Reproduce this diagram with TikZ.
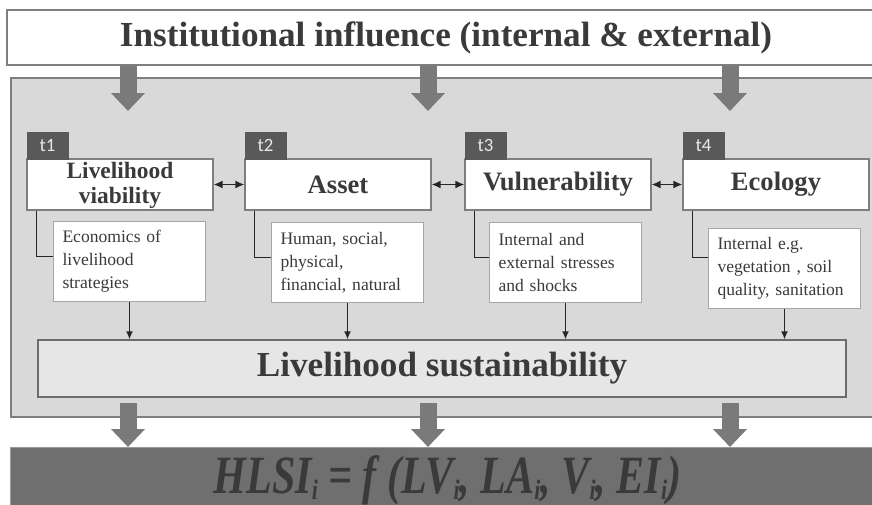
\documentclass[tikz,border=0pt]{standalone}
\usepackage{fontspec}
\setmainfont{Liberation Serif}
\newfontfamily\tabfont{Carlito}
\usetikzlibrary{arrows.meta}

\definecolor{panelgray}{HTML}{D9D9D9}
\definecolor{edgegray}{HTML}{7F7F7F}
\definecolor{lightedge}{HTML}{A6A6A6}
\definecolor{arrowgray}{HTML}{7A7A7A}
\definecolor{tabgray}{HTML}{595959}
\definecolor{tabtext}{HTML}{E8E8E8}
\definecolor{textgray}{HTML}{3A3A3A}
\definecolor{linkgray}{HTML}{262626}
\definecolor{sustfill}{HTML}{E6E6E6}
\definecolor{resultfill}{HTML}{6F6F6F}

\newlength\pu
\setlength\pu{0.03cm}
% index i set low under the letters of the formula
\newcommand\idx{\raisebox{-5pt}{\fontsize{24}{24}\selectfont i}}

\begin{document}
\begin{tikzpicture}[x=0.03cm,y=-0.03cm,
	box/.style={draw=edgegray,fill=white,line width=1.3\pu,inner sep=0pt},
	mainbox/.style={box,minimum width=186\pu,minimum height=51\pu,align=center,text=textgray},
	subbox/.style={draw=lightedge,fill=white,line width=1\pu,anchor=north west,minimum width=152\pu,minimum height=80\pu,
		text width=134\pu,inner xsep=9\pu,align=left,font=\fontsize{15}{19.6}\selectfont,text=textgray},
	tab/.style={fill=tabgray,anchor=north west,minimum width=42\pu,minimum height=28\pu,inner sep=0pt,
		font=\tabfont\fontsize{16}{18}\selectfont,text=tabtext},
	bigarrow/.style={draw=arrowgray,line width=17\pu,-{Triangle[width=0.99cm,length=0.54cm]}},
	link/.style={draw=linkgray,line width=1.4\pu},
	smalltip/.style={-{Latex[length=0.24cm,width=0.21cm]}},
	bothtips/.style={{Latex[length=0.27cm,width=0.24cm]}-{Latex[length=0.27cm,width=0.24cm]}}
]
\useasboundingbox (0,0) rectangle (872,504);

% grey frame holding the four components
\draw[fill=panelgray,draw=edgegray,line width=1.3\pu] (11,78) rectangle (885,417);

\node[box,minimum width=878\pu,minimum height=55\pu,text=textgray,font=\fontsize{30}{36}\selectfont\bfseries]
	(title) at (446,37.5) {Institutional influence (internal \& external)};

% top row, one column per component
\foreach \i/\cx/\fs/\lab in {1/120/20/{\strut Livelihood\\viability},2/338/22.7/Asset,3/558/22.7/Vulnerability,4/776/22.7/Ecology}
{
	\node[mainbox,font=\fontsize{\fs}{22}\selectfont\bfseries] (main\i) at (\cx,184.5) {\lab};
	\node[tab] (tab\i) at ([yshift=27\pu]main\i.north west) {t\i};
}
\foreach \i/\sx/\sy/\dy/\txt in {1/53/221/5/{Economics of\\livelihood\\strategies},
	2/271/222/5/{Human, social,\\physical,\\financial, natural},
	3/489/222/5/{Internal and\\external stresses\\and shocks},
	4/708/228/11/{Internal e.g.\\vegetation , soil\\quality, sanitation}}
{
	\node[subbox] (sub\i) at (\sx,\sy) {\txt};
	\draw[link] ([xshift=10\pu]main\i.south west) |- ([yshift=\dy\pu]sub\i.west);
}

\node[box,fill=sustfill,draw=edgegray!85!black,minimum width=808\pu,minimum height=57\pu,text=textgray,
	font=\fontsize{30}{36}\selectfont\bfseries] (sust) at (442,368.5) {Livelihood sustainability};

\foreach \i in {1,...,4}
	\draw[link,smalltip] (sub\i.south) -- (sub\i.south |- sust.north);
\foreach \i/\j in {1/2,2/3,3/4}
	\draw[link,bothtips] (main\i.east) -- (main\j.west);

\node[draw=edgegray!80,fill=resultfill,line width=1\pu,anchor=north,minimum width=875\pu,minimum height=64\pu,
	inner sep=0pt,text height=32pt,text depth=8pt,text=textgray,font=\fontsize{46}{50}\selectfont\bfseries\itshape]
	(result) at (447.5,447)
	{\scalebox{0.78}[1]{HLSI\idx{} = f (LV\idx, LA\idx, V\idx, EI\idx)}};

% broad grey arrows in and out of the frame
\foreach \x [count=\k] in {128,428,730}
{
	\coordinate (in\k) at (\x,111);
	\coordinate (out\k) at (\x,403);
	\draw[bigarrow] (title.south -| in\k) -- (in\k);
	\draw[bigarrow] (out\k) -- (out\k |- result.north);
}
\end{tikzpicture}
\end{document}
